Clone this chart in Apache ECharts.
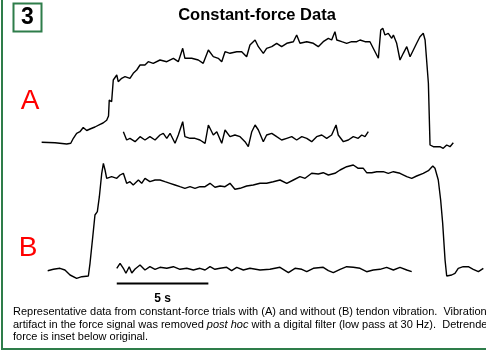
<!DOCTYPE html>
<html><head><meta charset="utf-8">
<script src="https://cdn.jsdelivr.net/npm/echarts@6/dist/echarts.min.js"></script>
<style>html,body{margin:0;padding:0;background:#fff}#c{width:486px;height:351px}</style>
</head><body><div id="c"></div>
<script>
// Trace A (with tendon vibration): time (s) and force (N, relative to rest)
const timeA = [0.09,0.82,1.46,1.68,1.82,2.00,2.18,2.36,2.55,2.73,3.00,3.28,3.44,3.64,3.74,3.78,3.91,4.00,4.19,4.27,4.46,4.64,4.91,5.09,5.28,5.46,5.73,5.91,6.18,6.55,6.92,7.28,7.55,7.79,7.91,8.28,8.64,8.91,9.19,9.46,9.73,9.92,10.10,10.37,10.74,11.01,11.28,11.46,11.74,11.92,12.19,12.37,12.65,12.92,13.19,13.47,13.83,14.01,14.19,14.56,14.92,15.19,15.46,15.74,15.92,16.10,16.20,16.47,16.74,17.01,17.29,17.47,17.74,18.01,18.19,18.47,18.60,18.71,18.83,19.01,19.20,19.29,19.47,19.65,19.83,20.02,20.20,20.38,20.56,20.74,20.92,21.02,21.20,21.29,21.47,21.83,22.01,22.20,22.38,22.56];
const forceA = [0.07,0.03,-0.10,-0.03,0.47,0.97,1.13,1.55,1.25,1.40,1.60,1.87,2.00,2.27,2.70,4.30,4.13,6.30,6.80,6.13,6.47,6.63,6.47,6.97,7.30,7.80,7.80,8.13,7.97,8.30,8.13,8.47,8.13,9.47,8.47,8.47,8.30,7.97,9.30,8.63,8.47,8.13,9.13,8.97,9.13,9.13,8.63,9.80,10.30,9.63,8.97,9.47,9.63,9.97,9.63,9.97,10.13,10.80,9.97,10.13,9.97,9.63,10.13,10.47,10.30,11.13,10.30,10.13,9.97,10.13,10.13,10.30,10.13,10.13,9.47,8.47,11.30,11.47,10.80,10.97,10.47,10.80,9.97,8.30,8.97,9.63,8.63,9.30,9.97,10.63,10.97,10.30,5.97,-0.20,-0.37,-0.37,-0.53,-0.20,-0.37,0.03];
// Trace A detrended (inset)
const timeAd = [4.55,4.73,4.91,5.19,5.46,5.73,6.00,6.28,6.55,6.73,6.92,7.10,7.37,7.55,7.79,7.91,8.19,8.46,8.73,9.01,9.19,9.46,9.65,9.92,10.10,10.37,10.64,10.92,11.19,11.37,11.56,11.74,11.92,12.19,12.37,12.65,12.92,13.19,13.47,13.74,14.01,14.29,14.56,14.83,15.10,15.38,15.65,15.92,16.16,16.28,16.56,16.83,17.10,17.37,17.56,17.74,17.92];
const forceAd = [0.53,-0.30,-0.13,-0.47,0.03,-0.30,0.03,-0.30,0.20,0.37,-0.13,0.37,-0.63,0.20,1.53,0.03,-0.13,-0.13,-0.30,-0.63,1.20,0.20,0.53,-0.63,0.70,0.03,0.20,0.03,-0.47,-0.97,0.53,1.20,0.70,-0.47,0.20,0.37,0.03,-0.30,-0.13,0.03,-0.30,0.03,-0.13,-0.47,0.03,0.20,-0.13,0.20,1.20,0.20,-0.47,-0.30,0.03,-0.13,0.20,0.03,0.53];
// Trace B (without tendon vibration)
const timeB = [0.42,0.73,1.09,1.36,1.64,2.00,2.28,2.64,2.73,2.88,3.00,3.13,3.24,3.37,3.46,3.55,3.64,3.91,4.19,4.37,4.55,4.73,4.91,5.09,5.37,5.55,5.73,6.00,6.28,6.55,6.82,7.10,7.37,7.64,7.91,8.19,8.46,8.73,9.01,9.28,9.55,9.83,10.10,10.37,10.64,10.92,11.28,11.64,12.01,12.37,12.73,13.10,13.47,13.83,14.19,14.47,14.83,15.19,15.46,15.74,16.10,16.38,16.74,17.10,17.37,17.65,17.83,18.11,18.38,18.74,19.01,19.29,19.65,20.02,20.29,20.56,20.92,21.20,21.44,21.56,21.74,21.87,21.98,22.11,22.20,22.47,22.65,22.83,23.10,23.38,23.65,23.93,24.20];
const forceB = [0.03,0.17,0.27,0.10,-0.40,-0.73,-0.57,-0.50,0.77,3.43,5.60,5.93,7.43,9.77,10.77,10.10,9.27,9.43,9.27,9.60,9.77,8.77,8.93,8.60,9.10,8.77,9.27,8.93,9.10,9.10,8.93,8.77,8.60,8.43,8.27,8.43,8.27,8.43,8.43,8.77,8.37,8.50,8.43,8.77,8.17,8.27,8.50,8.60,8.77,8.77,8.93,9.10,8.77,9.10,9.43,9.27,9.77,9.70,9.83,9.60,9.77,10.10,10.43,10.60,10.27,10.27,9.83,9.83,9.93,9.93,9.77,9.93,9.77,9.43,9.27,9.50,9.77,10.03,10.50,10.27,9.10,7.10,4.77,1.10,-0.50,-0.40,-0.23,0.27,0.43,0.43,0.17,-0.07,0.27];
// Trace B detrended (inset)
const timeBd = [4.19,4.37,4.55,4.69,4.87,5.01,5.19,5.46,5.73,6.00,6.28,6.55,6.92,7.28,7.64,8.01,8.37,8.73,9.01,9.28,9.55,9.83,10.19,10.46,10.74,11.10,11.46,12.01,12.55,13.10,13.56,13.92,14.29,14.56,14.92,15.46,15.74,16.01,16.38,16.74,17.10,17.47,17.83,18.19,18.56,18.92,19.29,19.65,20.02,20.29];
const forceBd = [-0.03,0.47,-0.03,-0.53,0.13,-0.50,-0.10,0.30,-0.20,0.13,-0.13,0.07,-0.03,0.13,-0.13,-0.03,-0.20,-0.03,-0.20,0.13,-0.13,-0.03,0.07,-0.27,0.07,-0.20,-0.03,-0.20,-0.13,0.07,-0.47,-0.03,-0.13,-0.37,-0.03,0.07,-0.27,-0.47,-0.13,0.13,0.07,-0.03,-0.37,-0.20,-0.13,0.07,-0.20,0.07,-0.20,-0.37];
// Scale bar (s)
const scaleBarStart = 4.19;
const scaleBarLength = 5;
const scaleBarLabel = '5 s';
// Texts
const panelNumber = '3';
const titleText = 'Constant-force Data';
const captionLines = [
  'Representative data from constant-force trials with (A) and without (B) tendon vibration.  Vibration',
  'artifact in the force signal was removed {i|post hoc} with a digital filter (low pass at 30 Hz).  Detrended',
  'force is inset below original.'
];

// Vertical stacking offsets of the traces on the shared force axis
const offA = 20.8, offAd = 21.4, offB = 8.0, offBd = 8.3, scaleBarLevel = 6.75;

function trace(t, f, off) { return t.map((x, i) => [x, f[i] + off]); }

const green = '#2e7d4a';
const font = '"Liberation Sans", Arial, sans-serif';
const lineStyle = { color: '#000', width: 1.4 };
const mk = (name, data, ls) => ({
  name, type: 'line', data, symbol: 'none', showSymbol: false, silent: true,
  lineStyle: ls || lineStyle, animation: false, clip: false
});

const chart = echarts.init(document.getElementById('c'), null, { renderer: 'canvas' });
chart.setOption({
  animation: false,
  backgroundColor: '#fff',
  grid: { left: 40, right: 0, top: 0, bottom: 0, containLabel: false },
  xAxis: { type: 'value', min: 0, max: 24.345, show: false },
  yAxis: { type: 'value', min: 0, max: 35.1, show: false },
  series: [
    mk('A', trace(timeA, forceA, offA)),
    mk('A detrended', trace(timeAd, forceAd, offAd)),
    mk('B', trace(timeB, forceB, offB)),
    mk('B detrended', trace(timeBd, forceBd, offBd)),
    mk('scale', [[scaleBarStart, scaleBarLevel], [scaleBarStart + scaleBarLength, scaleBarLevel]], { color: '#000', width: 1.8 })
  ],
  graphic: [
    { type: 'line', shape: { x1: 2, y1: 0, x2: 2, y2: 349 }, style: { stroke: green, lineWidth: 2 } },
    { type: 'line', shape: { x1: 1, y1: 349, x2: 486, y2: 349 }, style: { stroke: green, lineWidth: 2 } },
    { type: 'rect', shape: { x: 13.5, y: 3.5, width: 28, height: 28 }, style: { fill: '#fff', stroke: green, lineWidth: 2 } },
    { type: 'text', x: 27.5, y: 18, style: { text: panelNumber, font: 'bold 23px ' + font, fill: '#000', align: 'center', verticalAlign: 'middle' } },
    { type: 'text', x: 257, y: 15, style: { text: titleText, font: 'bold 16.5px ' + font, fill: '#000', align: 'center', verticalAlign: 'middle' } },
    { type: 'text', x: 30, y: 101, style: { text: 'A', font: '28px ' + font, fill: '#ff0000', align: 'center', verticalAlign: 'middle' } },
    { type: 'text', x: 28, y: 248, style: { text: 'B', font: '28px ' + font, fill: '#ff0000', align: 'center', verticalAlign: 'middle' } },
    { type: 'text', x: 162.5, y: 299, style: { text: scaleBarLabel, font: 'bold 12px ' + font, fill: '#000', align: 'center', verticalAlign: 'middle' } },
    ...captionLines.map((s, i) => ({
      type: 'text', x: 13, y: 312 + i * 12.5,
      style: { text: s, font: '11px ' + font, fill: '#000', align: 'left', verticalAlign: 'middle',
        rich: { i: { fontStyle: 'italic', fontSize: 11, fontFamily: font } } }
    }))
  ]
});
</script>
</body></html>
